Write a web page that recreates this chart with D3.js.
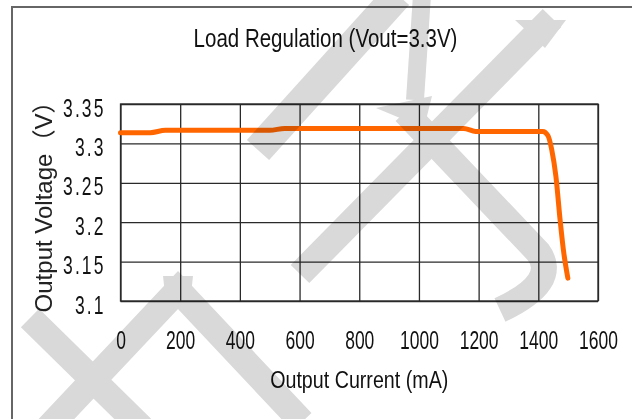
<!DOCTYPE html>
<html>
<head>
<meta charset="utf-8">
<script src="https://cdn.jsdelivr.net/npm/d3@7"></script>
<style>
  html, body { margin: 0; padding: 0; background: #fff; }
  svg { display: block; }
</style>
</head>
<body>
<svg id="chart" width="632" height="419"></svg>
<script>
// ---- data ----
const current = [0, 100, 150, 500, 550, 1150, 1190, 1415, 1432, 1445, 1459, 1473, 1484, 1499];
const voltage = [3.3136, 3.3136, 3.3166, 3.3166, 3.3189, 3.3189, 3.3152, 3.3152, 3.3100, 3.2920, 3.2580, 3.2030, 3.1650, 3.1290];
const xTicks = [0, 200, 400, 600, 800, 1000, 1200, 1400, 1600];
const yTicks = [3.1, 3.15, 3.2, 3.25, 3.3, 3.35];
const titleText = "Load Regulation (Vout=3.3V)";
const xTitle = "Output Current (mA)";
const yTitle = "Output Voltage（V）";

// ---- layout ----
const W = 632, H = 419;
const plot = { left: 120.5, right: 598, top: 104, bottom: 301 };
const font = "'Liberation Sans', Arial, 'Noto Sans CJK SC', sans-serif";
const narrowX = 0.82;   // condensed look of the original typeface
const tickX = 0.70;

const svg = d3.select("#chart");
svg.append("rect").attr("width", W).attr("height", H).attr("fill", "#fff");
// outer frame
svg.append("rect").attr("x", 12).attr("y", 7).attr("width", W + 20).attr("height", H + 20)
  .attr("fill", "#fff").attr("stroke", "#666").attr("stroke-width", 2);

const x = d3.scaleLinear().domain([0, 1600]).range([plot.left, plot.right]);
const y = d3.scaleLinear().domain([3.1, 3.35]).range([plot.bottom, plot.top]);
const pw = plot.right - plot.left, ph = plot.bottom - plot.top;

// grid + x axis
const gx = svg.append("g").attr("transform", `translate(0,${plot.bottom})`)
  .call(d3.axisBottom(x).tickValues(xTicks).tickSize(-ph).tickSizeOuter(0).tickPadding(0)
    .tickFormat(d3.format("d")));
gx.select(".domain").remove();
gx.selectAll(".tick line").attr("stroke", "#2a2a2a").attr("stroke-width", 1.3);
gx.selectAll(".tick text")
  .attr("y", 48).attr("dy", 0)
  .attr("transform", `scale(${tickX},1)`)
  .attr("fill", "#111")
  .style("font-family", font).style("font-size", "25px");

const gy = svg.append("g").attr("transform", `translate(${plot.left},0)`)
  .call(d3.axisLeft(y).tickValues(yTicks).tickSize(-pw).tickSizeOuter(0).tickPadding(0)
    .tickFormat(d => String(d)));
gy.select(".domain").remove();
gy.selectAll(".tick line").attr("stroke", "#2a2a2a").attr("stroke-width", 1.3);
gy.selectAll(".tick text")
  .attr("x", (-17.5 + 2.5) / tickX).attr("dy", 0).attr("y", 12)
  .attr("text-anchor", "end")
  .attr("transform", `scale(${tickX},1)`)
  .attr("fill", "#111")
  .style("letter-spacing", "3px")
  .style("font-family", font).style("font-size", "25px");

// plot border
svg.append("rect").attr("x", plot.left).attr("y", plot.top).attr("width", pw).attr("height", ph)
  .attr("fill", "none").attr("stroke", "#2a2a2a").attr("stroke-width", 1.3);

// data line
const line = d3.line().x((d, i) => x(current[i])).y((d, i) => y(voltage[i])).curve(d3.curveMonotoneX);
svg.append("path").datum(voltage).attr("d", line)
  .attr("fill", "none").attr("stroke", "#ff6600").attr("stroke-width", 5)
  .attr("stroke-linecap", "round").attr("stroke-linejoin", "round");

// titles
svg.append("text").attr("transform", `translate(325.5,47) scale(${narrowX},1)`).attr("text-anchor", "middle")
  .attr("fill", "#111").style("font-family", font).style("font-size", "25px").text(titleText);
svg.append("text").attr("transform", `translate(${plot.left + pw / 2},388) scale(${narrowX},1)`).attr("text-anchor", "middle")
  .attr("fill", "#111").style("font-family", font).style("font-size", "24px").text(xTitle);
svg.append("text").attr("transform", "translate(52,201) rotate(-90)").attr("text-anchor", "middle")
  .attr("fill", "#222").style("font-family", font).style("font-size", "24px").text(yTitle);

// watermark (light grey, multiplied over the chart)
const wm = svg.append("g").style("mix-blend-mode", "multiply").attr("fill", "none")
  .attr("stroke", "#d9d9d9").attr("stroke-width", 26);
wm.append("path").attr("d", "M 552 18 L 300 274");
wm.append("path").attr("d", "M 398 -5 L 258 150").attr("stroke-width", 30);
wm.append("path").attr("d", "M 422 -5 L 415 100").attr("stroke-width", 18);
wm.append("path").attr("d", "M 405 112 L 538 252 Q 560 282 500 310").attr("stroke-width", 26);
wm.append("path").attr("d", "M 48 428 L 178 290 L 302 422");
wm.append("path").attr("d", "M 30 318 L 142 428");
wm.append("polygon").attr("points", "163,276 193,276 191,294 165,294").attr("stroke", "none").attr("fill", "#d9d9d9");
wm.append("polygon").attr("points", "376,108 432,96 424,128").attr("stroke", "none").attr("fill", "#d9d9d9");
wm.append("polygon").attr("points", "515,20 566,20 545,48").attr("stroke", "none").attr("fill", "#d9d9d9");
</script>
</body>
</html>
